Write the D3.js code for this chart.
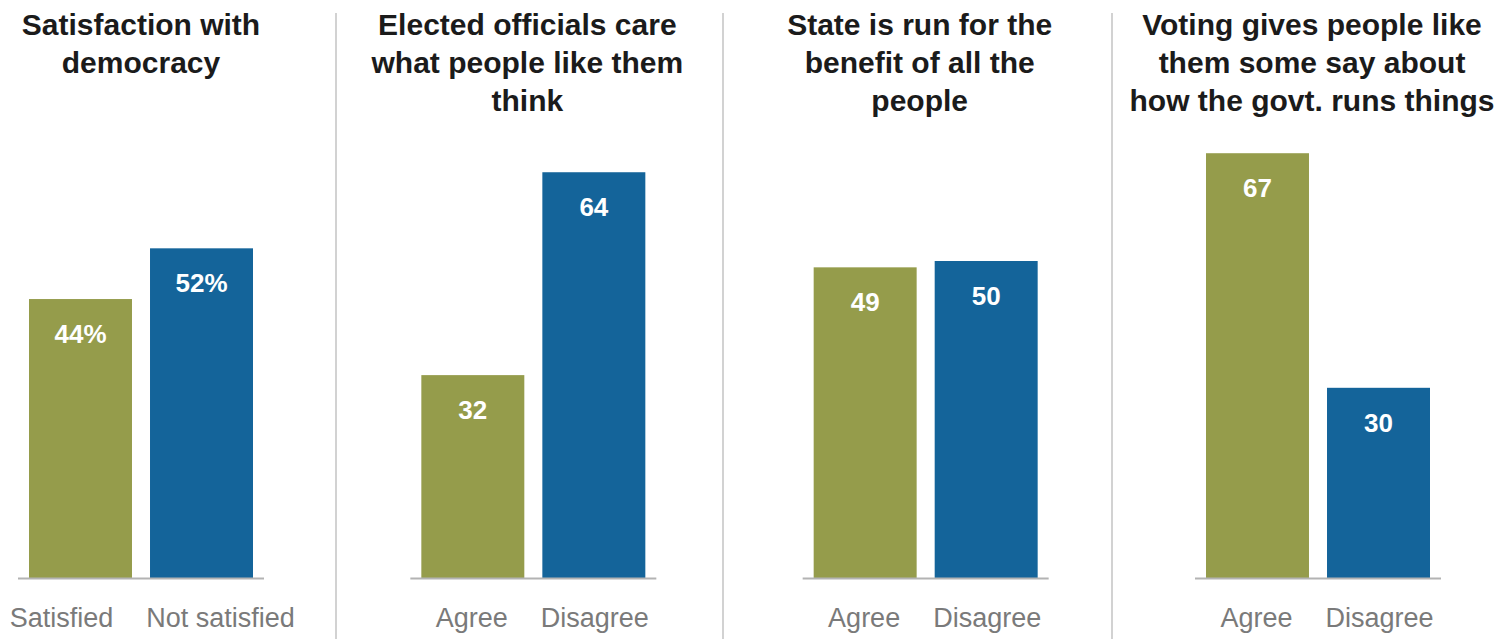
<!DOCTYPE html>
<html>
<head>
<meta charset="utf-8">
<script src="https://cdn.jsdelivr.net/npm/d3@7"></script>
<style>
  html, body { margin: 0; padding: 0; background: #ffffff; }
  svg { display: block; }
</style>
</head>
<body>
<svg id="chart" width="1504" height="639"></svg>
<script>
// ---- data ----
const panelTitles = [
  ["Satisfaction with", "democracy"],
  ["Elected officials care", "what people like them", "think"],
  ["State is run for the", "benefit of all the", "people"],
  ["Voting gives people like", "them some say about", "how the govt. runs things"]
];
const categories = [
  ["Satisfied", "Not satisfied"],
  ["Agree", "Disagree"],
  ["Agree", "Disagree"],
  ["Agree", "Disagree"]
];
const positiveValues = [44, 32, 49, 67];
const negativeValues = [52, 64, 50, 30];
const valueSuffix = ["%", "", "", ""];
const seriesColors = ["#959c4b", "#14649a"];

// ---- layout ----
const W = 1504, H = 639;
const baseY = 578;
const svg = d3.select("#chart");

const panelX = d3.scalePoint().domain(d3.range(panelTitles.length)).range([141, 1318]);
const barX = d3.scaleBand().domain([0, 1]).range([-112, 112]).paddingInner(0.149).paddingOuter(0);
const y = d3.scaleLinear().domain([0, 100]).range([baseY, baseY - 634]);
const separators = [336, 723, 1112];

svg.selectAll("line.sep").data(separators).join("line")
  .attr("class", "sep")
  .attr("x1", d => d).attr("x2", d => d)
  .attr("y1", 13).attr("y2", H)
  .attr("stroke", "#d2d2d2").attr("stroke-width", 2);

panelTitles.forEach((title, i) => {
  const cx = panelX(i);
  const g = svg.append("g").attr("transform", `translate(${cx},0)`);
  const vals = [positiveValues[i], negativeValues[i]];

  // title
  const t = g.append("text")
    .attr("text-anchor", "middle")
    .attr("font-family", "'Liberation Sans', Arial, sans-serif")
    .attr("font-weight", "bold")
    .attr("font-size", 30)
    .attr("fill", "#1b1b1b");
  title.forEach((line, k) => {
    t.append("tspan").attr("x", i === 0 ? 0 : -6).attr("y", 35 + k * 38).text(line);
  });

  // bars
  g.selectAll("rect").data(vals).join("rect")
    .attr("x", (d, k) => barX(k))
    .attr("width", barX.bandwidth())
    .attr("y", d => y(d))
    .attr("height", d => baseY - y(d))
    .attr("fill", (d, k) => seriesColors[k]);

  // baseline
  g.append("line")
    .attr("x1", barX(0) - 11).attr("x2", barX(1) + barX.bandwidth() + 11)
    .attr("y1", baseY + 0.5).attr("y2", baseY + 0.5)
    .attr("stroke", "#b3b3b3").attr("stroke-width", 2);

  // value labels
  g.selectAll("text.val").data(vals).join("text")
    .attr("class", "val")
    .attr("x", (d, k) => barX(k) + barX.bandwidth() / 2)
    .attr("y", d => y(d) + 44)
    .attr("text-anchor", "middle")
    .attr("font-family", "'Liberation Sans', Arial, sans-serif")
    .attr("font-weight", "bold")
    .attr("font-size", 26)
    .attr("fill", "#ffffff")
    .text(d => d + valueSuffix[i]);

  // category labels
  const labels = g.selectAll("text.cat").data(categories[i]).join("text")
    .attr("class", "cat")
    .attr("x", (d, k) => barX(k) + barX.bandwidth() / 2)
    .attr("y", 627)
    .attr("text-anchor", "middle")
    .attr("font-family", "'Liberation Sans', Arial, sans-serif")
    .attr("font-size", 27)
    .attr("fill", "#7a7a7a")
    .text(d => d);

  // push labels apart if they collide
  const nodes = labels.nodes();
  const w0 = nodes[0].getComputedTextLength(), w1 = nodes[1].getComputedTextLength();
  const c0 = barX(0) + barX.bandwidth() / 2, c1 = barX(1) + barX.bandwidth() / 2;
  const gap = (c1 - w1 / 2) - (c0 + w0 / 2);
  const minGap = 33;
  if (gap < minGap) {
    const s = (minGap - gap) / 2;
    d3.select(nodes[0]).attr("x", c0 - s);
    d3.select(nodes[1]).attr("x", c1 + s);
  }
});
</script>
</body>
</html>
